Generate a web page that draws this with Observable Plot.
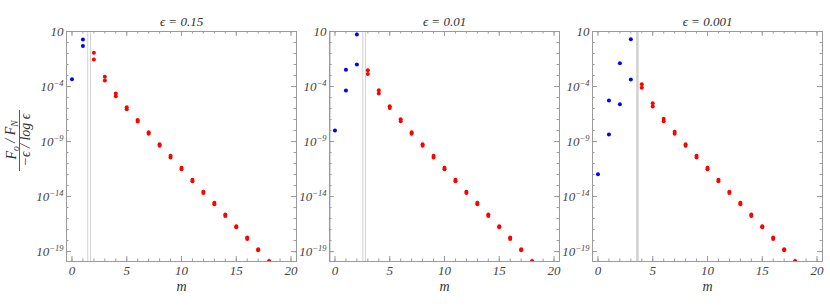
<!DOCTYPE html>
<html><head><meta charset="utf-8">
<script src="https://cdn.jsdelivr.net/npm/d3@7"></script>
<script src="https://cdn.jsdelivr.net/npm/@observablehq/plot@0.6"></script>
<style>
body{margin:0;background:#fff;}
#wrap{display:flex;width:830px;height:306px;overflow:hidden;}
#wrap svg{overflow:visible;}
#wrap svg, #wrap svg text, #wrap svg g {font-family:"Liberation Serif","DejaVu Serif",serif !important;font-style:italic;}
</style></head><body><div id="wrap"></div>
<script>
// ---- data ----
const epsLabels = ["ϵ = 0.15", "ϵ = 0.01", "ϵ = 0.001"];
const m = [0,1,2,3,4,5,6,7,8,9,10,11,12,13,14,15,16,17,18];
// first m drawn in red for each panel (points before it are blue)
const firstRed = [2, 3, 4];
// vertical marker lines (m)
const cutLines = [[1.44, 1.69], [-0.42, 2.54, 2.78], [3.58, 3.62]];

const upper1 = [4.7e-4, 1.86, 0.115, 7.6e-4, 2.3e-5, 1.3e-6, 9.3e-8, 7.1e-9, 5.8e-10, 5.0e-11, 4.1e-12, 3.3e-13, 2.8e-14, 2.7e-15, 2.3e-16, 2.0e-17, 1.9e-18, 1.6e-19, 1.4e-20];
const lower1 = [null, 0.47, 0.028, 3.5e-4, 1.3e-5, 8.7e-7, 6.6e-8, 5.0e-9, 4.1e-10, 3.5e-11, 3.0e-12, 2.5e-13, 2.1e-14, 2.0e-15, 1.7e-16, 1.6e-17, 1.4e-18, 1.3e-19, 1.15e-20];

const upper2 = [1.0e-8, 3.3e-3, 5.4, 3.0e-3, 4.7e-5, 1.6e-6, 1.07e-7, 7.1e-9, 5.8e-10, 5.0e-11, 4.1e-12, 3.3e-13, 2.8e-14, 2.7e-15, 2.3e-16, 2.0e-17, 1.9e-18, 1.6e-19, 1.4e-20];
const lower2 = [null, 4.4e-5, 1.0e-2, 1.4e-3, 2.3e-5, 1.1e-6, 7.1e-8, 5.0e-9, 4.1e-10, 3.5e-11, 3.0e-12, 2.5e-13, 2.1e-14, 2.0e-15, 1.7e-16, 1.6e-17, 1.4e-18, 1.3e-19, 1.15e-20];

const upper3 = [1.07e-12, 5.4e-6, 1.3e-2, 2.0, 1.6e-4, 3.0e-6, 1.2e-7, 7.6e-9, 5.8e-10, 5.0e-11, 4.1e-12, 3.3e-13, 2.8e-14, 2.7e-15, 2.3e-16, 2.0e-17, 1.9e-18, 1.6e-19, 1.4e-20];
const lower3 = [null, 4.4e-9, 2.5e-6, 4.4e-4, 7.6e-5, 1.5e-6, 7.1e-8, 5.0e-9, 4.1e-10, 3.5e-11, 3.0e-12, 2.5e-13, 2.1e-14, 2.0e-15, 1.7e-16, 1.6e-17, 1.4e-18, 1.3e-19, 1.15e-20];

const xMajor = [0, 5, 10, 15, 20];
const xMinor = [0,1,2,3,4,5,6,7,8,9,10,11,12,13,14,15,16,17,18,19,20];
const yMajorExp = [1, -4, -9, -14, -19];
const yMinorExp = [1,0,-1,-2,-3,-4,-5,-6,-7,-8,-9,-10,-11,-12,-13,-14,-15,-16,-17,-18,-19];

const uppers = [upper1, upper2, upper3];
const lowers = [lower1, lower2, lower3];

const FW = 230, FH = 230;
const FONT = "'Liberation Serif', 'DejaVu Serif', serif";
const GRAY = "#9a9a9a";

function panel(i, ml, mr) {
  const blue = [], red = [];
  m.forEach((mm, j) => {
    for (const v of [uppers[i][j], lowers[i][j]]) {
      if (v == null) continue;
      (mm >= firstRed[i] ? red : blue).push({m: mm, v});
    }
  });
  const yMajor = yMajorExp.map(e => Math.pow(10, e));
  const yMinor = yMinorExp.map(e => Math.pow(10, e));
  const svg = Plot.plot({
    width: ml + FW + mr, height: 306,
    marginLeft: ml, marginRight: mr, marginTop: 31, marginBottom: 45,
    style: {fontFamily: FONT, fontStyle: "italic", fontSize: "12px", color: "#444", background: "transparent", overflow: "visible"},
    x: {domain: [-0.5, 20.5]},
    y: {type: "log", domain: [Math.pow(10, -19.9), 10]},
    marks: [
      Plot.ruleX(cutLines[i], {stroke: "#d2d2d2", strokeWidth: i === 2 ? 2 : 1}),
      Plot.ruleX(xMinor, {stroke: GRAY, insetTop: FH - 2.5}),
      Plot.ruleX(xMinor, {stroke: GRAY, insetBottom: FH - 2.5}),
      Plot.ruleX(xMajor, {stroke: GRAY, insetTop: FH - 5}),
      Plot.ruleX(xMajor, {stroke: GRAY, insetBottom: FH - 5}),
      Plot.ruleY(yMinor, {stroke: GRAY, insetRight: FW - 2.5}),
      Plot.ruleY(yMinor, {stroke: GRAY, insetLeft: FW - 2.5}),
      Plot.ruleY(yMajor, {stroke: GRAY, insetRight: FW - 5}),
      Plot.ruleY(yMajor, {stroke: GRAY, insetLeft: FW - 5}),
      Plot.dot(blue, {x: "m", y: "v", r: 2, fill: "#0000ff", clip: true}),
      Plot.dot(red, {x: "m", y: "v", r: 2, fill: "#ff0000", clip: true}),
      Plot.axisX({ticks: xMajor, tickSize: 0, tickPadding: 4, label: null, fontSize: 13}),
      Plot.axisY({ticks: yMajor, tickSize: 0, tickPadding: 3, label: null, fontSize: 13,
        tickFormat: d => String(Math.round(Math.log10(d)))}),
      Plot.frame({stroke: GRAY}),
      Plot.text([epsLabels[i]], {frameAnchor: "top", lineAnchor: "middle", dy: -10, text: d => d, fontSize: 13, fill: "#333"}),
      Plot.text(["m"], {frameAnchor: "bottom", lineAnchor: "middle", dy: 25, text: d => d, fontSize: 14, fill: "#333"})
    ]
  });
  // superscript exponents on y tick labels
  d3.select(svg).selectAll('g[aria-label="y-axis tick label"] text').each(function() {
    const e = this.textContent;
    const t = d3.select(this);
    t.text("10");
    if (e !== "1") t.append("tspan").attr("dy", "-0.55em").attr("font-size", "8.5px").text(e.replace("-", "−"));
  });
  return svg;
}

const wrap = document.getElementById("wrap");
const s1 = panel(0, 66, 1);
const s2 = panel(1, 32, 1);
const s3 = panel(2, 32, 8);

// y-axis label (fraction) on the first panel
const g = d3.select(s1).append("g")
  .attr("font-family", FONT).attr("font-style", "italic").attr("font-size", 14).attr("fill", "#333");
const num = g.append("text").attr("text-anchor", "middle")
  .attr("transform", "translate(16,140) rotate(-90)");
num.append("tspan").text("F");
num.append("tspan").attr("font-size", 9.5).attr("dy", "0.3em").text("o");
num.append("tspan").attr("dy", "-0.3em").text("\u00A0/\u00A0F");
num.append("tspan").attr("font-size", 9.5).attr("dy", "0.3em").text("N");
g.append("line").attr("x1", 19.5).attr("x2", 19.5).attr("y1", 110).attr("y2", 171)
  .attr("stroke", "#333").attr("stroke-width", 0.8);
g.append("text").attr("text-anchor", "middle")
  .attr("transform", "translate(30,140) rotate(-90)")
  .text("−ϵ\u00A0/\u00A0log\u00A0ϵ");

wrap.append(s1, s2, s3);
</script>
</body></html>
